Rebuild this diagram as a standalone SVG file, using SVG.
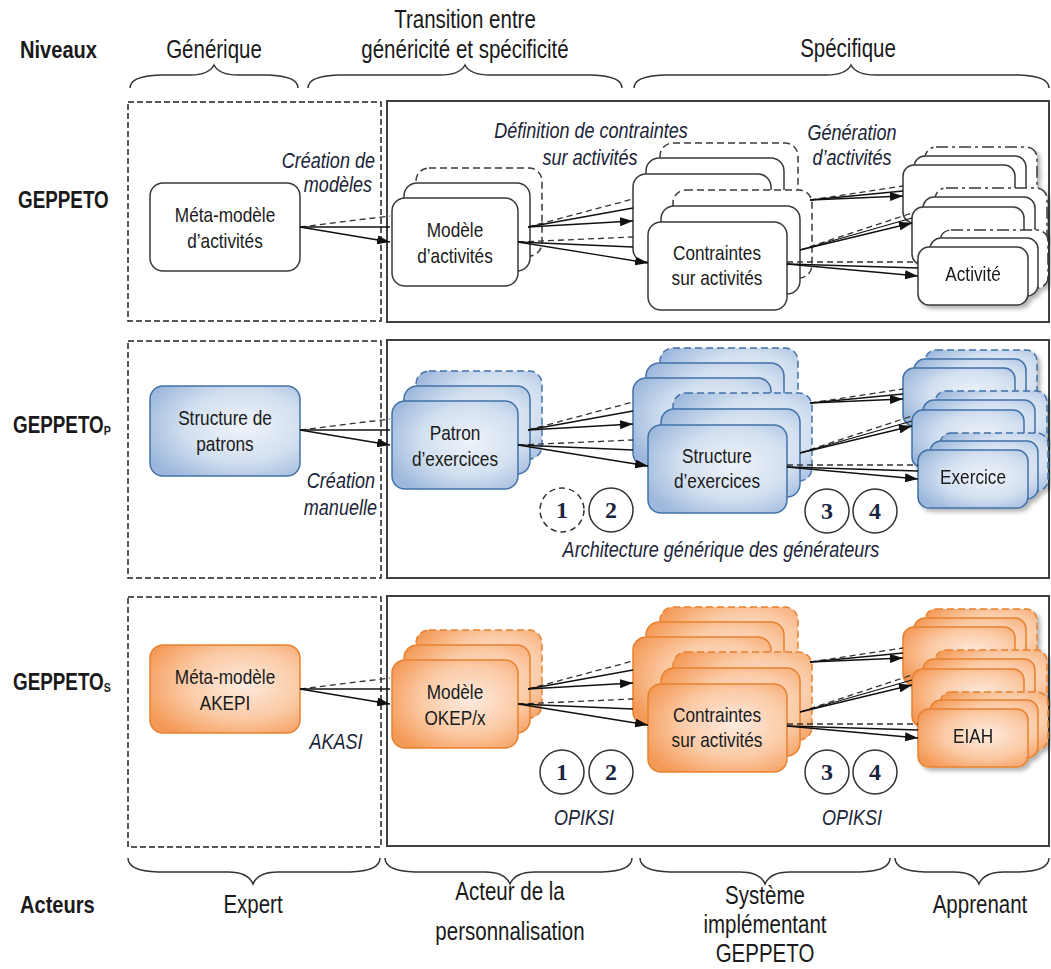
<svg xmlns="http://www.w3.org/2000/svg" width="1051" height="969" viewBox="0 0 1051 969">
<defs>
<style>
.t{font-family:"Liberation Sans",Arial,sans-serif;font-size:21px;fill:#1a1a1a;text-anchor:middle}
.h{font-size:25px}
.i{font-style:italic;fill:#1c2438;font-size:22px}
.e{text-anchor:end}
.b{font-weight:bold;font-size:24.5px;text-anchor:start}
.g{font-size:23px}
.n{font-family:"Liberation Serif","Times New Roman",serif;font-weight:bold;font-size:24px;fill:#1b2540;text-anchor:middle}
.w{fill:#fff;stroke:#3a3a3a;stroke-width:1.5}
.bl{fill:url(#gb);stroke:#4272a8;stroke-width:1.5}
.or{fill:url(#go);stroke:#e7812f;stroke-width:1.5}
.da{stroke-dasharray:7 4}
.dd{stroke-dasharray:12 4 3 4}
.frame{fill:none;stroke:#404040;stroke-width:2}
.gen{fill:none;stroke:#222;stroke-width:1.5;stroke-dasharray:6 3}
.brace{fill:none;stroke:#333;stroke-width:1.5}
.c{fill:none;stroke:#111;stroke-width:1.3}
.cd{fill:none;stroke:#333;stroke-width:1.3;stroke-dasharray:6 4}
.a{fill:none;stroke:#111;stroke-width:1.3;marker-end:url(#ah)}
.circ{fill:#fff;stroke:#333;stroke-width:1.5}
.sh{filter:url(#sh)}
</style>
<marker id="ah" viewBox="0 0 13 9" refX="13" refY="4.5" markerWidth="13" markerHeight="9" markerUnits="userSpaceOnUse" orient="auto"><path d="M0,0 L13,4.5 L0,9 z" fill="#111"/></marker>
<radialGradient id="gb" cx="0.62" cy="0.45" r="0.7"><stop offset="0" stop-color="#eef3fa"/><stop offset="0.55" stop-color="#d3e0f0"/><stop offset="1" stop-color="#9db8dc"/></radialGradient>
<radialGradient id="go" cx="0.62" cy="0.45" r="0.7"><stop offset="0" stop-color="#fdebdf"/><stop offset="0.55" stop-color="#fbcaa5"/><stop offset="1" stop-color="#f49a58"/></radialGradient>
<filter id="sh" x="-10%" y="-10%" width="130%" height="140%"><feDropShadow dx="3" dy="3" stdDeviation="2" flood-color="#000" flood-opacity="0.3"/></filter>
</defs>
<rect width="1051" height="969" fill="#fff"/>

<g id="headers">
<text class="t b" transform="translate(20,58) scale(0.82,1)">Niveaux</text>
<text class="t h" transform="translate(214,58) scale(0.82,1)">Générique</text>
<text class="t h" transform="translate(465,28) scale(0.82,1)">Transition entre</text>
<text class="t h" transform="translate(465,58) scale(0.82,1)">généricité et spécificité</text>
<text class="t h" transform="translate(848,57) scale(0.82,1)">Spécifique</text>
<path class="brace" d="M130,88 Q130,76 160,75 L190,75 Q209,75 214,65 Q219,75 238,75 L268,75 Q298,76 298,88"/>
<path class="brace" d="M308,88 Q308,76 338,75 L440,75 Q460,75 465,65 Q470,75 490,75 L592,75 Q622,76 622,88"/>
<path class="brace" d="M634,88 Q634,76 664,75 L826,75 Q846,75 851,65 Q856,75 876,75 L1019,75 Q1049,76 1049,88"/>
<text class="t b g" transform="translate(18,208) scale(0.82,1)">GEPPETO</text>
<text class="t b g" transform="translate(13,433) scale(0.82,1)">GEPPETO<tspan font-size="13" dy="2">P</tspan></text>
<text class="t b g" transform="translate(13,690) scale(0.82,1)">GEPPETO<tspan font-size="13" dy="2">S</tspan></text>
<text class="t b" transform="translate(20,913) scale(0.82,1)">Acteurs</text>
<path class="brace" d="M128,858 Q128,871 158,872 L228,872 Q248,872 253,884 Q258,872 278,872 L350,872 Q380,871 380,858"/>
<path class="brace" d="M385,858 Q385,871 415,872 L485,872 Q505,872 510,884 Q515,872 535,872 L602,872 Q632,871 632,858"/>
<path class="brace" d="M640,858 Q640,871 670,872 L740,872 Q760,872 765,884 Q770,872 790,872 L860,872 Q890,871 890,858"/>
<path class="brace" d="M895,858 Q895,871 925,872 L954,872 Q974,872 979,884 Q984,872 1004,872 L1019,872 Q1049,871 1049,858"/>
<text class="t h" transform="translate(253,913) scale(0.82,1)">Expert</text>
<text class="t h" transform="translate(510,900) scale(0.82,1)">Acteur de la</text>
<text class="t h" transform="translate(510,940) scale(0.82,1)">personnalisation</text>
<text class="t h" transform="translate(765,904) scale(0.82,1)">Système</text>
<text class="t h" transform="translate(765,933) scale(0.82,1)">implémentant</text>
<text class="t h" transform="translate(765,962) scale(0.82,1)">GEPPETO</text>
<text class="t h" transform="translate(980,913) scale(0.82,1)">Apprenant</text>
</g>

<g id="frames">
<rect class="gen" x="128" y="102" width="253" height="219"/>
<rect class="frame" x="387" y="101" width="662" height="221"/>
<rect class="gen" x="128" y="341" width="253" height="237"/>
<rect class="frame" x="387" y="340" width="662" height="238"/>
<rect class="gen" x="128" y="597" width="253" height="250"/>
<rect class="frame" x="387" y="596" width="662" height="250"/>
</g>

<!-- ROW 1 -->
<g id="r1-meta"><rect class="w" x="150" y="183" width="150" height="88" rx="13"/><text class="t" transform="translate(225,222) scale(0.82,1)">Méta-modèle</text><text class="t" transform="translate(225,248) scale(0.82,1)">d’activités</text></g>
<g id="r1-modele"><rect class="w da" x="416" y="168" width="126" height="88" rx="13"/><rect class="w" x="404" y="183" width="126" height="88" rx="13"/><rect class="w" x="392" y="198" width="126" height="88" rx="13"/><text class="t" transform="translate(455,237) scale(0.82,1)">Modèle</text><text class="t" transform="translate(455,263) scale(0.82,1)">d’activités</text></g>
<g id="r1-contraintes-a"><rect class="w da" x="660" y="143" width="138" height="88" rx="13"/><rect class="w" x="646" y="158" width="138" height="88" rx="13"/><rect class="w" x="633" y="174" width="138" height="88" rx="13"/></g>
<g id="r1-contraintes-b"><rect class="w da" x="673" y="190" width="139" height="88" rx="13"/><rect class="w" x="661" y="206" width="139" height="88" rx="13"/><rect class="w" x="648" y="222" width="139" height="88" rx="13"/><text class="t" transform="translate(717,260) scale(0.82,1)">Contraintes</text><text class="t" transform="translate(717,285) scale(0.82,1)">sur activités</text></g>
<g id="r1-activite-a" class="sh"><rect class="w dd" x="925" y="147" width="112" height="58" rx="11"/><rect class="w" x="914" y="156" width="112" height="58" rx="11"/><rect class="w" x="903" y="165" width="112" height="58" rx="11"/></g>
<g id="r1-activite-b" class="sh"><rect class="w dd" x="935" y="188" width="112" height="58" rx="11"/><rect class="w" x="923" y="197" width="112" height="58" rx="11"/><rect class="w" x="912" y="207" width="112" height="58" rx="11"/></g>
<g id="r1-activite-c" class="sh"><rect class="w dd" x="940" y="230" width="108" height="58" rx="11"/><rect class="w" x="930" y="238" width="108" height="58" rx="11"/><rect class="w" x="918" y="247" width="110" height="58" rx="11"/><text class="t" transform="translate(973,281) scale(0.82,1)">Activité</text></g>

<!-- ROW 2 -->
<g transform="translate(0,203)">
<g id="r2-structure-patrons"><rect class="bl" x="150" y="183" width="150" height="90" rx="13"/><text class="t" transform="translate(225,222) scale(0.82,1)">Structure de</text><text class="t" transform="translate(225,248) scale(0.82,1)">patrons</text></g>
<g id="r2-patron"><rect class="bl da" x="416" y="168" width="126" height="88" rx="13"/><rect class="bl" x="404" y="183" width="126" height="88" rx="13"/><rect class="bl" x="392" y="198" width="126" height="88" rx="13"/><text class="t" transform="translate(455,237) scale(0.82,1)">Patron</text><text class="t" transform="translate(455,263) scale(0.82,1)">d’exercices</text></g>
<g id="r2-structure-a"><rect class="bl da" x="660" y="145" width="138" height="88" rx="13"/><rect class="bl" x="646" y="160" width="138" height="88" rx="13"/><rect class="bl" x="633" y="175" width="138" height="88" rx="13"/></g>
<g id="r2-structure-b"><rect class="bl da" x="673" y="190" width="139" height="88" rx="13"/><rect class="bl" x="661" y="206" width="139" height="88" rx="13"/><rect class="bl" x="648" y="222" width="139" height="88" rx="13"/><text class="t" transform="translate(717,260) scale(0.82,1)">Structure</text><text class="t" transform="translate(717,285) scale(0.82,1)">d’exercices</text></g>
<g id="r2-exercice-a" class="sh"><rect class="bl da" x="925" y="147" width="112" height="58" rx="11"/><rect class="bl" x="914" y="156" width="112" height="58" rx="11"/><rect class="bl" x="903" y="165" width="112" height="58" rx="11"/></g>
<g id="r2-exercice-b" class="sh"><rect class="bl da" x="935" y="188" width="112" height="58" rx="11"/><rect class="bl" x="923" y="197" width="112" height="58" rx="11"/><rect class="bl" x="912" y="207" width="112" height="58" rx="11"/></g>
<g id="r2-exercice-c" class="sh"><rect class="bl da" x="940" y="230" width="108" height="58" rx="11"/><rect class="bl" x="930" y="238" width="108" height="58" rx="11"/><rect class="bl" x="918" y="247" width="110" height="58" rx="11"/><text class="t" transform="translate(973,281) scale(0.82,1)">Exercice</text></g>
</g>

<!-- ROW 3 -->
<g transform="translate(0,462)">
<g id="r3-meta-akepi"><rect class="or" x="150" y="183" width="150" height="88" rx="13"/><text class="t" transform="translate(225,222) scale(0.82,1)">Méta-modèle</text><text class="t" transform="translate(225,248) scale(0.82,1)">AKEPI</text></g>
<g id="r3-modele-okep"><rect class="or da" x="416" y="168" width="126" height="88" rx="13"/><rect class="or" x="404" y="183" width="126" height="88" rx="13"/><rect class="or" x="392" y="198" width="126" height="88" rx="13"/><text class="t" transform="translate(455,237) scale(0.82,1)">Modèle</text><text class="t" transform="translate(455,263) scale(0.82,1)">OKEP/x</text></g>
<g id="r3-contraintes-a"><rect class="or da" x="660" y="145" width="138" height="88" rx="13"/><rect class="or" x="646" y="160" width="138" height="88" rx="13"/><rect class="or" x="633" y="175" width="138" height="88" rx="13"/></g>
<g id="r3-contraintes-b"><rect class="or da" x="673" y="190" width="139" height="88" rx="13"/><rect class="or" x="661" y="206" width="139" height="88" rx="13"/><rect class="or" x="648" y="222" width="139" height="88" rx="13"/><text class="t" transform="translate(717,260) scale(0.82,1)">Contraintes</text><text class="t" transform="translate(717,285) scale(0.82,1)">sur activités</text></g>
<g id="r3-eiah-a" class="sh"><rect class="or da" x="925" y="147" width="112" height="58" rx="11"/><rect class="or" x="914" y="156" width="112" height="58" rx="11"/><rect class="or" x="903" y="165" width="112" height="58" rx="11"/></g>
<g id="r3-eiah-b" class="sh"><rect class="or da" x="935" y="188" width="112" height="58" rx="11"/><rect class="or" x="923" y="197" width="112" height="58" rx="11"/><rect class="or" x="912" y="207" width="112" height="58" rx="11"/></g>
<g id="r3-eiah-c" class="sh"><rect class="or da" x="940" y="230" width="108" height="58" rx="11"/><rect class="or" x="930" y="238" width="108" height="58" rx="11"/><rect class="or" x="918" y="247" width="110" height="58" rx="11"/><text class="t" transform="translate(973,281) scale(0.82,1)">EIAH</text></g>
</g>

<g id="connectors">
<g id="conn-r1">
<path class="cd" d="M300,227 L390,216"/><path class="c" d="M300,227 L390,227"/><path class="a" d="M300,227 L390,242"/>
<path class="cd" d="M528,227 L633,199"/><path class="c" d="M528,227 L633,208"/><path class="a" d="M528,227 L633,221"/>
<path class="cd" d="M518,242 L633,237"/><path class="c" d="M518,242 L633,247"/><path class="a" d="M518,242 L648,263"/>
<path class="cd" d="M810,200 L903,186"/><path class="c" d="M810,200 L903,191"/><path class="a" d="M810,200 L903,196"/>
<path class="cd" d="M800,250 L912,213"/><path class="c" d="M800,250 L912,218"/><path class="a" d="M800,250 L912,223"/>
<path class="cd" d="M787,262 L918,262"/><path class="c" d="M787,264 L918,268"/><path class="a" d="M787,264 L918,276"/>
</g>
<g id="conn-r2" transform="translate(0,203)">
<path class="cd" d="M300,227 L390,216"/><path class="c" d="M300,227 L390,227"/><path class="a" d="M300,227 L390,242"/>
<path class="cd" d="M528,227 L633,199"/><path class="c" d="M528,227 L633,208"/><path class="a" d="M528,227 L633,221"/>
<path class="cd" d="M518,242 L633,237"/><path class="c" d="M518,242 L633,247"/><path class="a" d="M518,242 L648,263"/>
<path class="cd" d="M810,200 L903,186"/><path class="c" d="M810,200 L903,191"/><path class="a" d="M810,200 L903,196"/>
<path class="cd" d="M800,250 L912,213"/><path class="c" d="M800,250 L912,218"/><path class="a" d="M800,250 L912,223"/>
<path class="cd" d="M787,262 L918,262"/><path class="c" d="M787,264 L918,268"/><path class="a" d="M787,264 L918,276"/>
</g>
<g id="conn-r3" transform="translate(0,462)">
<path class="cd" d="M300,227 L390,216"/><path class="c" d="M300,227 L390,227"/><path class="a" d="M300,227 L390,242"/>
<path class="cd" d="M528,227 L633,199"/><path class="c" d="M528,227 L633,208"/><path class="a" d="M528,227 L633,221"/>
<path class="cd" d="M518,242 L633,237"/><path class="c" d="M518,242 L633,247"/><path class="a" d="M518,242 L648,263"/>
<path class="cd" d="M810,200 L903,186"/><path class="c" d="M810,200 L903,191"/><path class="a" d="M810,200 L903,196"/>
<path class="cd" d="M800,250 L912,213"/><path class="c" d="M800,250 L912,218"/><path class="a" d="M800,250 L912,223"/>
<path class="cd" d="M787,262 L918,262"/><path class="c" d="M787,264 L918,268"/><path class="a" d="M787,264 L918,276"/>
</g>
</g>

<g id="labels">
<text class="t i e" transform="translate(375,168) scale(0.82,1)">Création de</text>
<text class="t i e" transform="translate(372,192) scale(0.82,1)">modèles</text>
<text class="t i" transform="translate(591,138) scale(0.82,1)">Définition de contraintes</text>
<text class="t i" transform="translate(590,165) scale(0.82,1)">sur activités</text>
<text class="t i" transform="translate(852,140) scale(0.82,1)">Génération</text>
<text class="t i" transform="translate(852,165) scale(0.82,1)">d’activités</text>
<text class="t i e" transform="translate(375,488) scale(0.82,1)">Création</text>
<text class="t i e" transform="translate(377,515) scale(0.82,1)">manuelle</text>
<text class="t i" transform="translate(721,557) scale(0.82,1)">Architecture générique des générateurs</text>
<text class="t i" transform="translate(336,749) scale(0.82,1)">AKASI</text>
<text class="t i" transform="translate(584,825) scale(0.82,1)">OPIKSI</text>
<text class="t i" transform="translate(852,825) scale(0.82,1)">OPIKSI</text>
</g>

<g id="step-r2-1"><circle class="circ" cx="562" cy="510" r="22" style="stroke-dasharray:6 4"/><text class="n" x="562" y="518">1</text></g>
<g id="step-r2-2"><circle class="circ" cx="611" cy="510" r="22"/><text class="n" x="611" y="518">2</text></g>
<g id="step-r2-3"><circle class="circ" cx="827" cy="511" r="22"/><text class="n" x="827" y="519">3</text></g>
<g id="step-r2-4"><circle class="circ" cx="875" cy="511" r="22"/><text class="n" x="875" y="519">4</text></g>
<g id="step-r3-1"><circle class="circ" cx="562" cy="772" r="22"/><text class="n" x="562" y="780">1</text></g>
<g id="step-r3-2"><circle class="circ" cx="611" cy="772" r="22"/><text class="n" x="611" y="780">2</text></g>
<g id="step-r3-3"><circle class="circ" cx="827" cy="772" r="22"/><text class="n" x="827" y="780">3</text></g>
<g id="step-r3-4"><circle class="circ" cx="875" cy="772" r="22"/><text class="n" x="875" y="780">4</text></g>
</svg>
